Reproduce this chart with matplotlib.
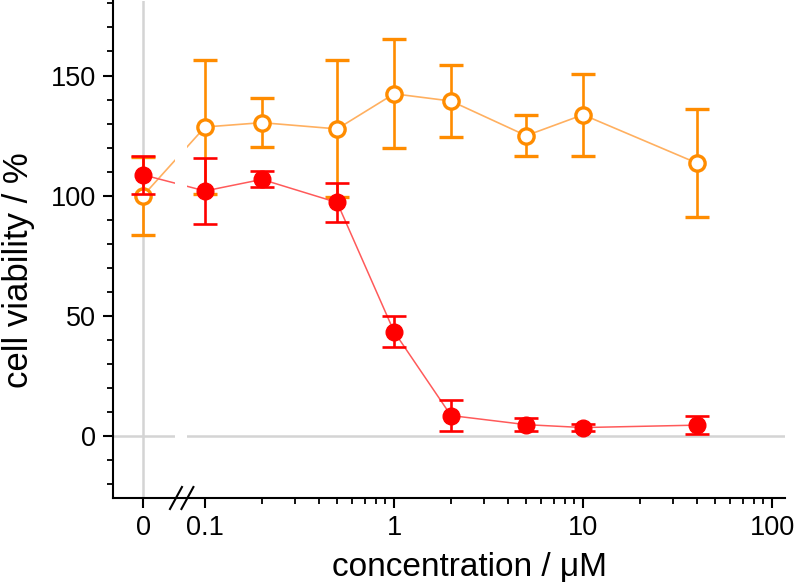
import numpy as np
import matplotlib
matplotlib.use('Agg')
import matplotlib.pyplot as plt
import matplotlib.transforms as mtransforms

# concentration in uM (0 = untreated control)
conc = [0, 0.1, 0.2, 0.5, 1, 2, 5, 10, 40]

# filled red series
red_mean = [108.7, 102.0, 106.8, 97.2, 43.5, 8.6, 4.8, 3.6, 4.6]
red_err = [8.0, 13.7, 3.3, 8.1, 6.5, 6.5, 2.7, 1.6, 3.7]

# open orange series
orange_mean = [100.0, 128.6, 130.4, 127.8, 142.4, 139.4, 125.0, 133.7, 113.6]
orange_err = [16.2, 27.7, 10.3, 28.5, 22.7, 15.0, 8.5, 17.1, 22.6]

x_ticks = [0.1, 1, 10, 100]
x_ticklabels = ['0.1', '1', '10', '100']
y_ticks = [0, 50, 100, 150]

# where "0" sits on the log axis, and the broken-axis gap
ZERO_POS = 0.047
GAP = (0.0695, 0.0805)

plt.rcParams['font.family'] = ['Liberation Sans', 'DejaVu Sans']

fig = plt.figure(figsize=(7.96, 5.86), dpi=100)
ax = fig.add_axes([113 / 796, 1 - 498 / 586, (785 - 113) / 796, 497 / 586])

xpos = np.where(np.array(conc) == 0, ZERO_POS, np.array(conc, dtype=float))

# reference lines
ax.axhline(0, color='#d4d4d4', lw=1.8, zorder=0.5)
ax.axvline(ZERO_POS, color='#d4d4d4', lw=1.8, zorder=0.5)

orange = '#ff8c00'
red = '#ff0000'

ax.plot(xpos, orange_mean, color='#ffb060', lw=1.2, zorder=1)
ax.errorbar(xpos, orange_mean, yerr=orange_err, fmt='o', color=orange,
            mfc='white', mec=orange, mew=2.4, ms=11, elinewidth=1.9,
            capsize=8.5, capthick=1.9, zorder=2)

ax.plot(xpos, red_mean, color='#ff5a5a', lw=1.1, zorder=2.05)
ax.errorbar(xpos, red_mean, yerr=red_err, fmt='o', color=red,
            mfc=red, mec=red, ms=12, elinewidth=1.9,
            capsize=8.5, capthick=1.9, zorder=2.1)

# white band = axis break
ax.axvspan(GAP[0], GAP[1], color='white', lw=0, zorder=2.2)

ax.set_xscale('log')
ax.set_xlim(0.0326, 117)
ax.set_ylim(-25.7, 181)

ax.set_xticks([ZERO_POS] + x_ticks)
ax.set_xticklabels(['0'] + x_ticklabels)
minor = [k * 10.0 ** d for d in (-1, 0, 1) for k in range(2, 10)]
ax.set_xticks(minor, minor=True)
ax.set_yticks(y_ticks)
ax.set_yticks(np.arange(-20, 181, 10), minor=True)

for s in ['top', 'right']:
    ax.spines[s].set_visible(False)
for s in ['left', 'bottom']:
    ax.spines[s].set_linewidth(1.5)

ax.tick_params(which='major', direction='out', length=7, width=1.5,
               labelsize=19.5, pad=5)
ax.tick_params(which='minor', direction='out', length=4.5, width=1.3)

# break marks on the x axis
trans = mtransforms.blended_transform_factory(ax.transData, ax.transAxes)
dx = 10 ** (6 / 189)
dy = 11 / 497
for xc in (0.0702, 0.0807):
    ax.plot([xc / dx, xc * dx], [-dy, dy], color='black', lw=1.5,
            transform=trans, clip_on=False, zorder=3)

ax.set_xlabel('concentration / μM', fontsize=24)
ax.xaxis.set_label_coords(0.53, -0.108)
fig.text(19 / 796, 1 - 270 / 586, 'cell viability / %', fontsize=25,
         rotation=90, ha='center', va='center')

fig.savefig('out.png', dpi=100)
